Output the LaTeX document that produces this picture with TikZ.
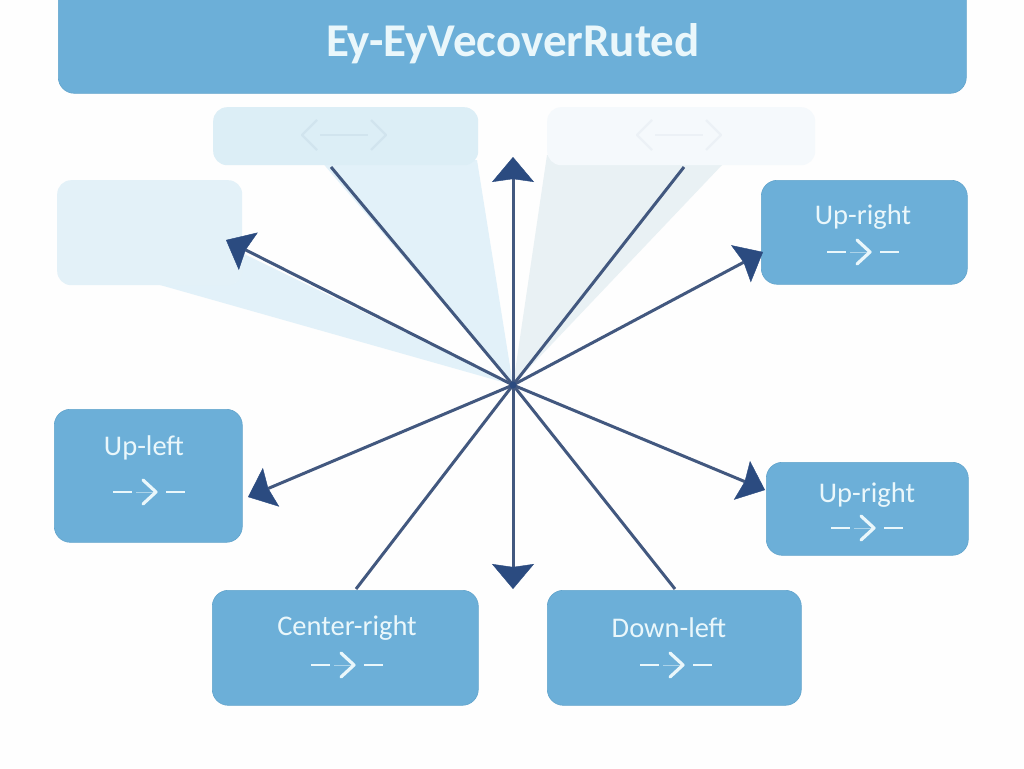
\documentclass[tikz,border=0pt]{standalone}
\usepackage{fontspec}
\setmainfont{Carlito}
\usetikzlibrary{arrows.meta}
\definecolor{boxblue}{HTML}{6CAFD8}
\definecolor{boxedge}{HTML}{62A4CC}
\definecolor{labelc}{HTML}{EAF7FB}
\definecolor{shaft}{HTML}{42587F}
\definecolor{headc}{HTML}{2B4B80}
\definecolor{fadeA}{HTML}{DCEEF6}
\definecolor{fadeB}{HTML}{E3F1F8}
\definecolor{fadeC}{HTML}{F5F9FC}
\definecolor{wedgeA}{HTML}{E2F1F9}
\definecolor{wedgeC}{HTML}{E9F1F4}
\definecolor{pagebg}{HTML}{FEFEFE}
\tikzset{
  x=1pt,y=-1pt,
  bluebox/.style={rectangle,rounded corners=16pt,fill=boxblue,draw=boxedge,line width=.6pt,inner sep=0pt,anchor=north west},
  fadebox/.style={rectangle,rounded corners=14pt,inner sep=0pt,anchor=north west},
  boxlabel/.style={text=labelc,font=\fontsize{28.5}{29}\selectfont,inner sep=0pt},
  ray/.style={line width=3pt,draw=shaft},
  rayhead/.style={ray,-{Stealth[length=25pt,width=42pt,inset=3pt,color=headc,fill=headc,line width=.4pt]}},
  dashchev/.pic={
    \draw[labelc,line width=2.8pt] (-36,0) -- (-17,0) (17,0) -- (36,0);
    \draw[labelc,line width=.7pt,opacity=.5] (-13,0) -- (6,0);
    \draw[labelc,line width=3.2pt,line cap=round,line join=round] (-6,-12) -- (7,0) -- (-6,12);
  },
  fadechev/.pic={
    \draw[pic actions,line width=2.4pt,line join=round] (-27,-15) -- (-42,0) -- (-27,15) (27,-15) -- (42,0) -- (27,15);
    \draw[pic actions,line width=1.2pt] (-24,0) -- (24,0);
  }
}
\begin{document}
\begin{tikzpicture}
\useasboundingbox (0,0) rectangle (1024,768);
\clip (0,0) rectangle (1024,768);
\fill[pagebg] (0,0) rectangle (1024,768);
\coordinate (hub) at (513,385);
% translucent wedges
\fill[wedgeA] (320,160) -- (477,160) -- (hub) -- cycle;
\fill[wedgeA] (153,283) -- (236,283) -- (240,252) -- (hub) -- cycle;
\fill[wedgeC] (547,155) -- (722,165) -- (hub) -- cycle;
% header
\node[bluebox,minimum width=908pt,minimum height=133pt] (header) at (58,-40) {};
\node[text=labelc,font=\fontsize{47}{47}\selectfont\bfseries,inner sep=0pt] (title) at (513,44) {Ey-EyVecoverRuted};
% faded boxes
\node[fadebox,fill=fadeA,minimum width=265pt,minimum height=58pt] (fadeTL) at (213,107) {};
\node[fadebox,fill=fadeC,minimum width=268pt,minimum height=58pt] (fadeTR) at (547,107) {};
\node[fadebox,fill=fadeB,minimum width=185pt,minimum height=105pt] (fadeL) at (57,180) {};
\pic[draw=fadeA!93!shaft] at (344,135) {fadechev};
\pic[draw=fadeC!95!shaft] at (679,135) {fadechev};
% solid boxes
\node[bluebox,minimum width=206pt,minimum height=104pt] (ur) at (761,180) {};
\node[bluebox,minimum width=188pt,minimum height=133pt] (ul) at (54,409) {};
\node[bluebox,minimum width=202pt,minimum height=93pt] (dr) at (766,462) {};
\node[bluebox,minimum width=266pt,minimum height=115pt] (cr) at (212,590) {};
\node[bluebox,minimum width=254pt,minimum height=115pt] (dl) at (547,590) {};
% labels
\node[boxlabel] (urt) at (863,217) {Up-right};
\node[boxlabel] (ult) at (144,448) {Up-left};
\node[boxlabel] (drt) at (867,495) {Up-right};
\node[boxlabel] (crt) at (347,628) {Center-right};
\node[boxlabel] (dlt) at (669,628) {Down-left};
\pic at (863,252) {dashchev};
\pic at (149,492) {dashchev};
\pic at (867,528) {dashchev};
\pic at (347,665) {dashchev};
\pic at (676,665) {dashchev};
% connector ends
\coordinate (endUp) at (513,157);
\coordinate (endDown) at (513,589);
\coordinate (endUL) at (226,240);
\coordinate (endUR) at (763,252);
\coordinate (endLL) at (248,497);
\coordinate (endLR) at (765,490);
\coordinate (endTL) at (331,167);
\coordinate (endTR) at (684,167);
\coordinate (endBL) at (356,589);
\coordinate (endBR) at (675,589);
% connectors
\draw[ray] (hub) -- (endTL);
\draw[ray] (hub) -- (endTR);
\draw[ray] (hub) -- (endBL);
\draw[ray] (hub) -- (endBR);
\draw[rayhead] (hub) -- (endUp);
\draw[rayhead] (hub) -- (endDown);
\draw[rayhead] (hub) -- (endUL);
\draw[rayhead] (hub) -- (endUR);
\draw[rayhead] (hub) -- (endLL);
\draw[rayhead] (hub) -- (endLR);
\fill[headc] (hub) circle (3.5pt);
\end{tikzpicture}
\end{document}
